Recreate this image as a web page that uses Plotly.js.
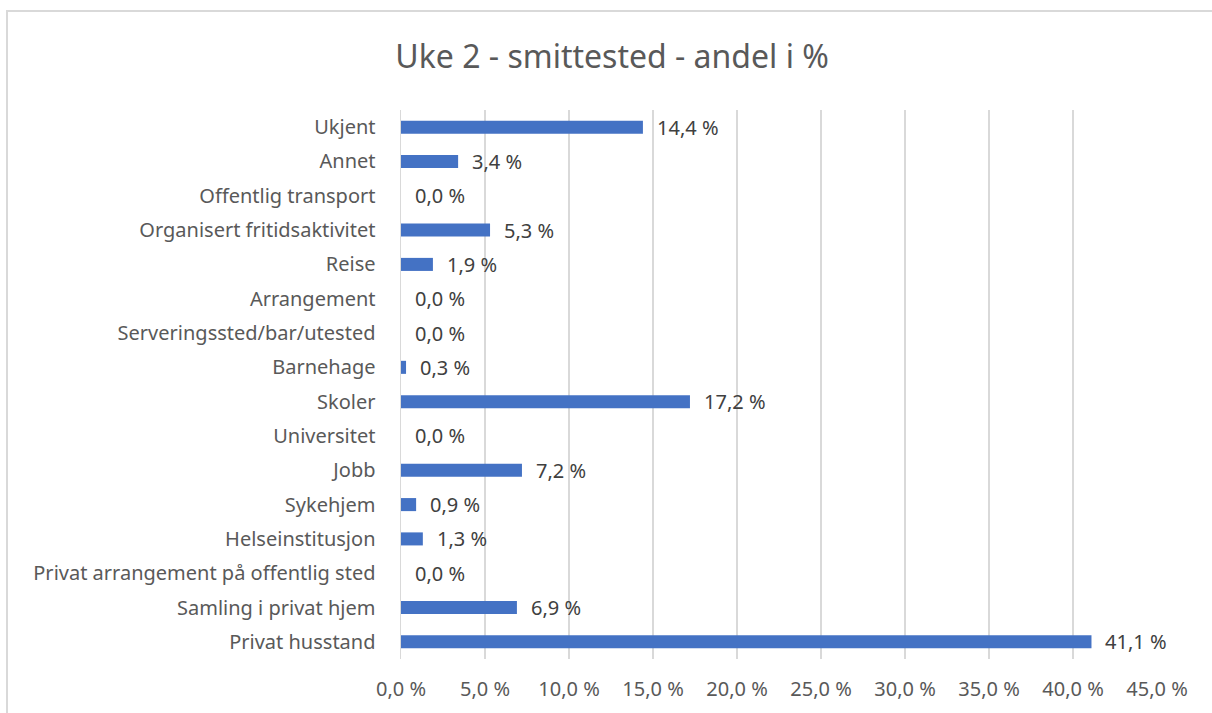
<!DOCTYPE html>
<html>
<head>
<meta charset="utf-8">
<script src="https://cdn.plot.ly/plotly-3.0.1.min.js"></script>
<style>
html,body{margin:0;padding:0;background:#fff;}
#chart{width:1212px;height:713px;position:absolute;left:0;top:0;}
#frame{position:absolute;left:6px;top:10px;width:1220px;height:720px;border:2px solid #d9d9d9;box-sizing:border-box;pointer-events:none;}
</style>
</head>
<body>
<div id="chart"></div>
<div id="frame"></div>
<script>
const categories = [
  "Ukjent",
  "Annet",
  "Offentlig transport",
  "Organisert fritidsaktivitet",
  "Reise",
  "Arrangement",
  "Serveringssted/bar/utested",
  "Barnehage",
  "Skoler",
  "Universitet",
  "Jobb",
  "Sykehjem",
  "Helseinstitusjon",
  "Privat arrangement på offentlig sted",
  "Samling i privat hjem",
  "Privat husstand"
];
const values = [14.4, 3.4, 0.0, 5.3, 1.9, 0.0, 0.0, 0.3, 17.2, 0.0, 7.2, 0.9, 1.3, 0.0, 6.9, 41.1];
const tickValues = [0, 5, 10, 15, 20, 25, 30, 35, 40, 45];
const titleText = "Uke 2 - smittested - andel i %";

const fmt = v => v.toFixed(1).replace('.', ',') + ' %';
const FONT = '"Noto Sans", "Open Sans", sans-serif';

const trace = {
  type: 'bar',
  orientation: 'h',
  x: values,
  y: categories,
  marker: {color: '#4472C4'},
  hoverinfo: 'x+y'
};

const annotations = values.map((v, i) => ({
  x: v, y: categories[i], xref: 'x', yref: 'y',
  text: fmt(v), showarrow: false, xanchor: 'left', xshift: 12,
  font: {family: FONT, size: 20, color: '#404040'}
}));

const layout = {
  width: 1212, height: 713,
  margin: {l: 401, r: 55, t: 110, b: 54},
  paper_bgcolor: '#ffffff', plot_bgcolor: '#ffffff',
  showlegend: false,
  bargap: 0.62,
  separators: ', ',
  title: {text: titleText, x: 0.505, xanchor: 'center', y: 0.92, yanchor: 'middle',
          font: {family: FONT, size: 32, color: '#595959'}},
  xaxis: {
    range: [0, 45], tickvals: tickValues, ticktext: tickValues.map(fmt),
    showgrid: true, gridcolor: '#d9d9d9', gridwidth: 1.5,
    zeroline: false, showline: false,
    ticks: 'outside', ticklen: 12, tickcolor: 'rgba(0,0,0,0)',
    tickfont: {family: FONT, size: 20, color: '#595959'}, fixedrange: true
  },
  yaxis: {
    type: 'category', autorange: 'reversed',
    showgrid: false, zeroline: false,
    showline: true, linecolor: '#d9d9d9', linewidth: 1.5,
    ticks: 'outside', ticklen: 20, tickcolor: 'rgba(0,0,0,0)',
    tickfont: {family: FONT, size: 20, color: '#595959'}, fixedrange: true
  },
  annotations: annotations
};

Plotly.newPlot('chart', [trace], layout, {displayModeBar: false, staticPlot: true});
</script>
</body>
</html>
